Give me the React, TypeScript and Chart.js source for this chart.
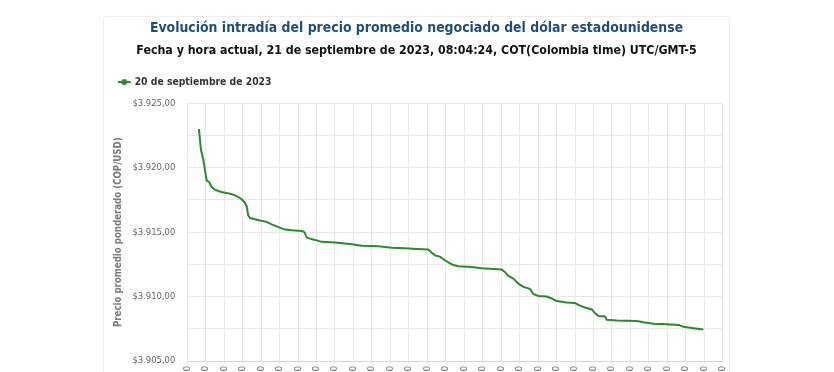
import React, { useEffect, useRef } from "react";
import { Chart, registerables } from "chart.js";

Chart.register(...registerables);

const TITLE = "Evolución intradía del precio promedio negociado del dólar estadounidense";
const SUBTITLE = "Fecha y hora actual, 21 de septiembre de 2023, 08:04:24, COT(Colombia time) UTC/GMT-5";
const SERIES_LABEL = "20 de septiembre de 2023";
const Y_AXIS_TITLE = "Precio promedio ponderado (COP/USD)";

// Trade times (HH:MM:SS) and weighted average price (COP/USD)
const times = [
  "08:06:18", "08:07:24", "08:08:42", "08:09:36", "08:10:30", "08:11:48", "08:13:12", "08:15:00",
  "08:16:48", "08:19:00", "08:21:18", "08:24:06", "08:26:48", "08:29:06", "08:30:54", "08:32:12",
  "08:33:00", "08:34:00", "08:36:42", "08:39:24", "08:43:00", "08:45:42", "08:48:24", "08:51:06",
  "08:52:54", "08:56:36", "09:02:00", "09:03:24", "09:04:42", "09:06:30", "09:09:12", "09:12:48",
  "09:20:00", "09:29:06", "09:34:30", "09:43:30", "09:50:42", "09:57:54", "10:04:18", "10:10:36",
  "10:12:24", "10:14:12", "10:16:54", "10:18:42", "10:21:24", "10:24:06", "10:26:48", "10:34:06",
  "10:39:30", "10:50:18", "10:52:06", "10:53:54", "10:56:36", "10:59:18", "11:02:00", "11:05:36",
  "11:07:24", "11:10:06", "11:14:42", "11:17:24", "11:20:06", "11:25:30", "11:30:00", "11:32:42",
  "11:35:24", "11:39:06", "11:40:54", "11:42:42", "11:46:18", "11:47:12", "11:52:36", "12:03:30",
  "12:07:06", "12:12:30", "12:19:48", "12:26:06", "12:28:48", "12:34:06", "12:39:30",
];
const prices = [
  3923.0, 3921.4, 3920.6, 3919.8, 3919.0, 3918.9, 3918.5, 3918.3,
  3918.2, 3918.1, 3918.05, 3917.95, 3917.8, 3917.6, 3917.35, 3917.0,
  3916.3, 3916.1, 3916.0, 3915.9, 3915.8, 3915.6, 3915.45, 3915.3,
  3915.2, 3915.15, 3915.1, 3915.0, 3914.6, 3914.5, 3914.4, 3914.25,
  3914.2, 3914.07, 3913.95, 3913.9, 3913.8, 3913.75, 3913.7, 3913.65,
  3913.4, 3913.2, 3913.1, 3912.9, 3912.65, 3912.45, 3912.35, 3912.3,
  3912.2, 3912.1, 3911.9, 3911.6, 3911.4, 3911.0, 3910.75, 3910.6,
  3910.2, 3910.05, 3910.0, 3909.85, 3909.65, 3909.55, 3909.5, 3909.3,
  3909.15, 3909.0, 3908.7, 3908.5, 3908.45, 3908.2, 3908.15, 3908.1,
  3908.0, 3907.9, 3907.85, 3907.8, 3907.65, 3907.55, 3907.45,
];

const X_MIN = "08:00";
const X_MAX = "12:50";
const X_STEP_MIN = 10;
const Y_MIN = 3905;
const Y_MAX = 3925;
const Y_STEP = 2.5;
const Y_LABEL_STEP = 5;

const FONT = "'DejaVu Sans Condensed', 'DejaVu Sans', sans-serif";
const GREEN = "#2b8a2b";
const GRID = "#e9e9e9";
const LEGEND_EXTRA = 6.15;

function toMinutes(t: string): number {
  const p = t.split(":").map(Number);
  return p[0] * 60 + p[1] + (p[2] || 0) / 60;
}
function fmtTime(m: number): string {
  const h = Math.floor(m / 60);
  const mm = Math.round(m - h * 60);
  return String(h).padStart(2, "0") + ":" + String(mm).padStart(2, "0");
}
function fmtPrice(v: number): string {
  const thousands = Math.floor(v / 1000);
  const rest = Math.round(v - thousands * 1000);
  return "$" + thousands + "." + String(rest).padStart(3, "0") + ",00";
}

const legendGap = {
  id: "legendGap",
  afterInit(chart: any) {
    const lg = chart.legend;
    if (lg && !lg.__patched) {
      const f = lg.fit.bind(lg);
      lg.fit = () => {
        f();
        lg.height += LEGEND_EXTRA;
      };
      lg.__patched = true;
    }
  },
};

export default function App() {
  const ref = useRef<HTMLCanvasElement | null>(null);

  useEffect(() => {
    if (!ref.current) return;
    const mk = document.createElement("canvas");
    mk.width = 16;
    mk.height = 8;
    const c = mk.getContext("2d")!;
    c.strokeStyle = GREEN;
    c.lineWidth = 2;
    c.beginPath();
    c.moveTo(0, 4);
    c.lineTo(13, 4);
    c.stroke();
    c.fillStyle = GREEN;
    c.beginPath();
    c.arc(6.5, 4, 3, 0, Math.PI * 2);
    c.fill();

    const data = times.map((t, i) => ({ x: toMinutes(t), y: prices[i] }));

    const chart = new Chart(ref.current, {
      type: "line",
      data: {
        datasets: [
          {
            label: SERIES_LABEL,
            data,
            borderColor: GREEN,
            backgroundColor: GREEN,
            borderWidth: 2,
            pointRadius: 0,
            pointHoverRadius: 0,
            pointStyle: mk as any,
            tension: 0,
            fill: false,
          },
        ],
      },
      plugins: [legendGap],
      options: {
        animation: false,
        responsive: true,
        maintainAspectRatio: false,
        layout: { padding: { left: 0, right: 0, top: 0, bottom: 0 } },
        plugins: {
          title: {
            display: true,
            text: TITLE,
            color: "#1f4e79",
            font: { family: FONT, size: 13.9, weight: "bold" },
            padding: { top: 2.9, bottom: 7.3 },
          },
          subtitle: {
            display: true,
            text: SUBTITLE,
            color: "#111",
            font: { family: FONT, size: 12.3, weight: "bold" },
            padding: { top: 0, bottom: 0.27 },
          },
          legend: {
            display: true,
            position: "top",
            align: "start",
            labels: {
              usePointStyle: true,
              pointStyleWidth: 7.5,
              padding: 18,
              color: "#333",
              font: { family: FONT, size: 10.3, weight: "bold" },
            },
          },
          tooltip: { enabled: false },
        },
        scales: {
          x: {
            type: "linear",
            min: toMinutes(X_MIN),
            max: toMinutes(X_MAX),
            ticks: {
              stepSize: X_STEP_MIN,
              autoSkip: false,
              minRotation: 90,
              maxRotation: 90,
              padding: 1,
              color: "#666",
              font: { family: FONT, size: 9.4 },
              callback: (v: any) => fmtTime(Number(v)),
            },
            grid: { color: GRID, tickLength: 4, drawTicks: true },
            border: { color: "#ccd6eb" },
            afterFit: (s: any) => {
              s.height = 40;
              s.paddingRight = 6.3;
              s.paddingLeft = 0;
            },
          },
          y: {
            type: "linear",
            min: Y_MIN,
            max: Y_MAX,
            ticks: {
              stepSize: Y_STEP,
              padding: 12,
              color: "#666",
              font: { family: FONT, size: 9.4 },
              callback: (v: any) => {
                const n = Number(v);
                return Math.abs(n / Y_LABEL_STEP - Math.round(n / Y_LABEL_STEP)) < 1e-6 ? fmtPrice(n) : "";
              },
            },
            grid: { color: GRID, drawTicks: false },
            border: { color: GRID },
            title: {
              display: true,
              text: Y_AXIS_TITLE,
              color: "#7a7a7a",
              font: { family: FONT, size: 9.6, weight: "bold" },
              padding: { top: 9.2, bottom: 0 },
            },
            afterFit: (s: any) => {
              s.width = 83.3;
            },
          },
        },
      },
    });
    return () => chart.destroy();
  }, []);

  return (
    <div
      style={{
        width: 625,
        height: 384,
        marginTop: 8,
        marginLeft: 95,
        border: "1px solid #ececec",
        borderRadius: 4,
        background: "#fff",
      }}
    >
      <div style={{ position: "relative", width: 625, height: 384 }}>
        <canvas ref={ref} />
      </div>
    </div>
  );
}
